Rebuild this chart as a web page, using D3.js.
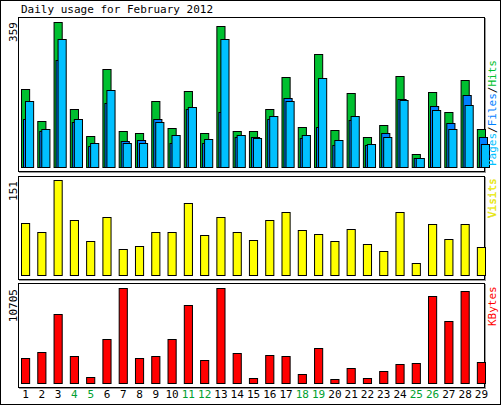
<!DOCTYPE html>
<html><head><meta charset="utf-8">
<script src="https://cdn.jsdelivr.net/npm/d3@7"></script>
<style>body{margin:0;background:#fff}svg{display:block}text{font-family:"DejaVu Sans Mono",monospace}</style>
</head><body><svg id="c" width="501" height="405"></svg>
<script>
const days = d3.range(1, 30);
const weekends = [4,5,11,12,18,19,25,26];
const hits  = [193,114,359,144,77,243,89,84,163,97,188,84,349,89,89,144,223,99,280,92,183,74,104,225,32,186,136,215,94];
const files = [119,89,265,112,53,159,64,67,119,59,144,59,136,74,74,119,171,72,99,55,116,55,84,168,22,151,109,178,74];
const pages = [163,94,317,119,59,191,59,59,111,79,148,69,317,79,72,126,163,79,220,67,126,57,74,166,22,141,94,154,57];
const visits = [83,68,151,87,54,92,41,46,68,68,114,64,92,68,56,87,100,72,65,54,73,49,38,100,19,81,57,81,45];
const kbytes = [2817,3528,7813,3042,676,4958,10705,2817,3042,4958,8826,2592,10705,3416,563,3155,3042,1014,3944,451,1690,563,1390,2141,2254,9840,6987,10367,2367];
const title = "Daily usage for February 2012";

const svg = d3.select("#c");
svg.append("rect").attr("x",0.5).attr("y",0.5).attr("width",500).attr("height",404).attr("fill","#fff").attr("stroke","#000");
svg.append("text").attr("x",21).attr("y",13).attr("font-size",11).text(title);

const x = d3.scaleBand().domain(days).range([21, 21+16*29]).paddingInner(0.5).paddingOuter(0);

function panel(y0, y1){
  svg.append("rect").attr("x",19.5).attr("y",y0+1.5).attr("width",466).attr("height",y1-y0).attr("fill","none").attr("stroke","#999");
  svg.append("rect").attr("x",18.5).attr("y",y0+0.5).attr("width",466).attr("height",y1-y0).attr("fill","#fff").attr("stroke","#000");
}
function bars(data, y, off, color){
  svg.append("g").selectAll("rect").data(data).join("rect")
    .attr("x",(d,i)=>x(days[i])+off+0.5).attr("y",d=>Math.round(y(d))+0.5)
    .attr("width",x.bandwidth()).attr("height",d=>Math.max(0,y(0)-Math.round(y(d))))
    .attr("fill",color).attr("stroke","#000");
}
function ylab(txt, yTop){
  svg.append("text").attr("transform",`translate(17,${yTop}) rotate(-90)`).attr("text-anchor","end").attr("font-size",11).text(txt);
}
function rlab(parts, yTop){
  const t = svg.append("text").attr("transform",`translate(496,${yTop}) rotate(90)`).attr("font-size",11);
  parts.forEach(p=>t.append("tspan").attr("fill",p[1]).text(p[0]));
}

// top panel
panel(17,171);
const y1 = d3.scaleLinear().domain([0,359]).range([167,22]);
bars(hits,y1,0,"#00C030");
bars(files,y1,2,"#0080FF");
bars(pages,y1,4,"#00C0FF");
ylab("359",22);
// right label reads bottom-to-top
(function(){
  const t = svg.append("text").attr("transform",`translate(496,166) rotate(-90)`).attr("font-size",11);
  [["Pages","#00C0FF"],["/","#000"],["Files","#0080FF"],["/","#000"],["Hits","#00C030"]].forEach(p=>t.append("tspan").attr("fill",p[1]).text(p[0]));
})();

// visits
panel(176,279);
const y2 = d3.scaleLinear().domain([0,151]).range([275,180]);
bars(visits,y2,0,"#FFFF00");
ylab("151",181);
svg.append("text").attr("transform",`translate(496,218) rotate(-90)`).attr("font-size",11).attr("fill","#FFFF00").attr("stroke","#c8c800").attr("stroke-width",0.3).text("Visits");

// kbytes
panel(283,387);
const y3 = d3.scaleLinear().domain([0,10705]).range([383,288]);
bars(kbytes,y3,0,"#FF0000");
ylab("10705",289);
svg.append("text").attr("transform",`translate(496,326) rotate(-90)`).attr("font-size",11).attr("fill","#FF0000").text("KBytes");

// day labels
svg.append("g").selectAll("text").data(days).join("text")
  .attr("x",d=>x(d)+x.bandwidth()/2+0.5).attr("y",398).attr("text-anchor","middle").attr("font-size",11)
  .attr("fill",d=>weekends.includes(d)?"#00A030":"#000").text(d=>d);
</script></body></html>
